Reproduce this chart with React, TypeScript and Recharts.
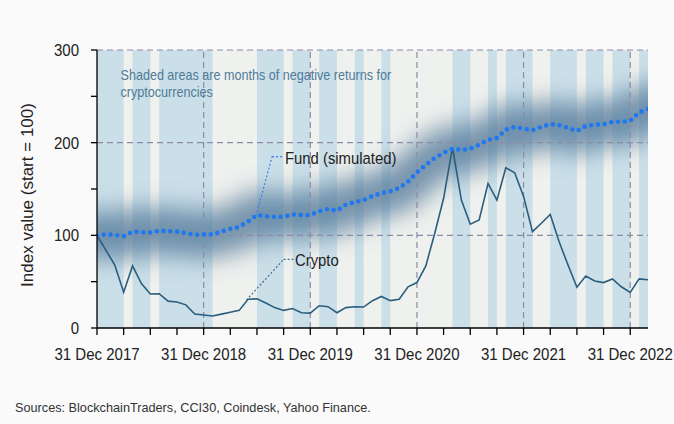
import React from 'react';
import { ComposedChart, Line, XAxis, YAxis, CartesianGrid, ReferenceArea, ReferenceLine } from 'recharts';

// Month-end observations, Dec 2017 .. Feb 2023
const monthLabels = [
  'Dec 2017',
  'Jan 2018', 'Feb 2018', 'Mar 2018', 'Apr 2018', 'May 2018', 'Jun 2018', 'Jul 2018', 'Aug 2018', 'Sep 2018', 'Oct 2018', 'Nov 2018', 'Dec 2018',
  'Jan 2019', 'Feb 2019', 'Mar 2019', 'Apr 2019', 'May 2019', 'Jun 2019', 'Jul 2019', 'Aug 2019', 'Sep 2019', 'Oct 2019', 'Nov 2019', 'Dec 2019',
  'Jan 2020', 'Feb 2020', 'Mar 2020', 'Apr 2020', 'May 2020', 'Jun 2020', 'Jul 2020', 'Aug 2020', 'Sep 2020', 'Oct 2020', 'Nov 2020', 'Dec 2020',
  'Jan 2021', 'Feb 2021', 'Mar 2021', 'Apr 2021', 'May 2021', 'Jun 2021', 'Jul 2021', 'Aug 2021', 'Sep 2021', 'Oct 2021', 'Nov 2021', 'Dec 2021',
  'Jan 2022', 'Feb 2022', 'Mar 2022', 'Apr 2022', 'May 2022', 'Jun 2022', 'Jul 2022', 'Aug 2022', 'Sep 2022', 'Oct 2022', 'Nov 2022', 'Dec 2022',
  'Jan 2023', 'Feb 2023',
];

const cryptoValues = [
  100,
  84, 68, 38.5, 67, 48, 36.7, 37, 29, 28, 25, 15, 14,
  13, 15, 17, 19, 31, 31.5, 27, 22, 19, 21, 16.5, 16,
  24, 23, 16.5, 22, 23, 22.6, 29.5, 34, 29.5, 31, 44.5, 49,
  67, 102, 140, 195, 138, 112, 116.5, 156, 138, 173, 167.5, 142,
  104, 113, 122.6, 93, 68, 44, 56, 50.7, 49, 53, 44.5, 38.5,
  53, 52,
];

const fundValues = [
  100,
  101, 100.5, 99, 104, 103.5, 103, 105, 104.5, 104, 102.5, 100.5, 101,
  101, 104, 107, 109, 115, 122, 120.5, 120, 120, 122.5, 122, 122,
  126, 128.5, 126.5, 133, 136, 138, 142.5, 145.5, 147.5, 151, 158, 168,
  176, 183.5, 189, 193.5, 192, 193.5, 198, 203, 205, 214, 217, 215,
  213.5, 217, 220, 219, 216, 212.5, 218, 219.3, 219.7, 222.5, 222.5, 223.5,
  232.5, 236.5,
];

// Months in which crypto returns were negative (shaded)
const negativeMonths = [
  'Jan 2018', 'Feb 2018', 'Mar 2018', 'May 2018', 'Jun 2018', 'Aug 2018', 'Sep 2018', 'Oct 2018', 'Nov 2018', 'Dec 2018',
  'Jan 2019', 'Jul 2019', 'Aug 2019', 'Sep 2019', 'Nov 2019', 'Dec 2019',
  'Feb 2020', 'Mar 2020', 'Jun 2020', 'Sep 2020',
  'May 2021', 'Jun 2021', 'Sep 2021', 'Nov 2021', 'Dec 2021',
  'Jan 2022', 'Apr 2022', 'May 2022', 'Jun 2022', 'Aug 2022', 'Sep 2022', 'Nov 2022', 'Dec 2022',
  'Feb 2023',
];

const yearTickLabels = ['31 Dec 2017', '31 Dec 2018', '31 Dec 2019', '31 Dec 2020', '31 Dec 2021', '31 Dec 2022'];
const yearTickMonths = ['Dec 2017', 'Dec 2018', 'Dec 2019', 'Dec 2020', 'Dec 2021', 'Dec 2022'];
const quarterTicks = [0, 3, 6, 9, 12, 15, 18, 21, 24, 27, 30, 33, 36, 39, 42, 45, 48, 51, 54, 57, 60];
const yTicks = [0, 50, 100, 150, 200, 250, 300];
const yLabelTicks = [0, 100, 200, 300];
const hGridValues = [100, 200, 300];

const data = monthLabels.map((m, i) => ({ i, month: m, crypto: cryptoValues[i], fund: fundValues[i] }));

// merge negative months into contiguous runs [start, end] on the index axis
const negIdx = negativeMonths.map((m) => monthLabels.indexOf(m));
const runs: [number, number][] = [];
negIdx.forEach((k) => {
  const last = runs[runs.length - 1];
  if (last && last[1] === k - 1) last[1] = k;
  else runs.push([k - 1, k]);
});
const yearIdx = yearTickMonths.map((m) => monthLabels.indexOf(m));

const FONT = '"Liberation Sans", Arial, sans-serif';
const GRID = '#8c8ba6';
const SX = 0.9; // horizontal condensing to mimic a narrow face

const XTick = (props: any) => {
  const { x, y, payload } = props;
  const k = yearIdx.indexOf(payload.value);
  if (k < 0) return null;
  return (
    <g transform={`translate(${x},${y}) scale(${SX},1)`}>
      <text x={0} y={0} dy="0.71em" textAnchor="middle" fontFamily={FONT} fontSize={16.7} fill="#222">
        {yearTickLabels[k]}
      </text>
    </g>
  );
};

const YTick = (props: any) => {
  const { x, y, payload } = props;
  if (!yLabelTicks.includes(payload.value)) return null;
  return (
    <g transform={`translate(${x},${y}) scale(${SX},1)`}>
      <text x={0} y={0} dy="0.355em" textAnchor="end" fontFamily={FONT} fontSize={16.7} fill="#222">
        {String(payload.value)}
      </text>
    </g>
  );
};

export default function App() {
  return (
    <div style={{ position: 'absolute', left: 0, top: 0, width: 674, height: 424, background: '#fafafa', fontFamily: FONT }}>
      <svg width={0} height={0} style={{ position: 'absolute' }}>
        <defs>
          <filter id="fundBlur" filterUnits="userSpaceOnUse" x={0} y={0} width={674} height={424}>
            <feGaussianBlur stdDeviation={12} />
          </filter>
        </defs>
      </svg>
      <ComposedChart width={674} height={424} data={data} margin={{ top: 50, right: 26, bottom: 66, left: 0 }}>
        <CartesianGrid fill="#eff1ee" horizontal={false} vertical={false} />
        <XAxis
          type="number"
          dataKey="i"
          domain={[0, 62]}
          ticks={quarterTicks}
          interval={0}
          allowDataOverflow
          height={30}
          tickSize={7}
          tickMargin={13}
          axisLine={{ stroke: '#000', strokeWidth: 1.3 }}
          tickLine={{ stroke: '#000', strokeWidth: 1.3 }}
          tick={<XTick />}
        />
        <YAxis
          type="number"
          domain={[0, 300]}
          ticks={yTicks}
          interval={0}
          allowDataOverflow
          width={97}
          tickSize={6}
          tickMargin={12}
          axisLine={{ stroke: '#000', strokeWidth: 1.3 }}
          tickLine={{ stroke: '#000', strokeWidth: 1.3 }}
          tick={<YTick />}
        />
        {runs.map(([a, b]) => (
          <ReferenceArea key={'r' + a} x1={a} x2={b} y1={0} y2={300} fill="#cbdfe8" fillOpacity={1} stroke="none" ifOverflow="hidden" />
        ))}
        <Line
          dataKey="fund"
          type="linear"
          stroke="#52799a"
          strokeOpacity={0.78}
          strokeWidth={46}
          strokeLinecap="square"
          filter="url(#fundBlur)"
          dot={false}
          activeDot={false}
          isAnimationActive={false}
        />
        {hGridValues.map((v) => (
          <ReferenceLine key={'h' + v} y={v} stroke={GRID} strokeDasharray="6 4" strokeWidth={1.2} />
        ))}
        {yearIdx.slice(1).map((v) => (
          <ReferenceLine key={'v' + v} x={v} stroke={GRID} strokeDasharray="6 4" strokeWidth={1.2} />
        ))}
        <Line
          dataKey="crypto"
          type="linear"
          stroke="#2a5e7e"
          strokeWidth={1.6}
          dot={false}
          activeDot={false}
          isAnimationActive={false}
        />
        <Line
          dataKey="fund"
          type="linear"
          stroke="#1f78f0"
          strokeWidth={4.6}
          strokeDasharray="0 6.8"
          strokeLinecap="round"
          dot={false}
          activeDot={false}
          isAnimationActive={false}
        />
        <ReferenceLine segment={[{ x: 17.9, y: 121 }, { x: 19.7, y: 185 }]} stroke="#3a7ee8" strokeDasharray="2 2" strokeWidth={1.2} />
        <ReferenceLine segment={[{ x: 19.7, y: 185 }, { x: 21.0, y: 185 }]} stroke="#3a7ee8" strokeDasharray="2 2" strokeWidth={1.2} />
        <ReferenceLine segment={[{ x: 16.8, y: 30 }, { x: 21.0, y: 74 }]} stroke="#3d6e8c" strokeDasharray="2 2" strokeWidth={1.2} />
        <ReferenceLine segment={[{ x: 21.0, y: 74 }, { x: 22.1, y: 74 }]} stroke="#3d6e8c" strokeDasharray="2 2" strokeWidth={1.2} />
      </ComposedChart>
      <svg width={674} height={424} style={{ position: 'absolute', left: 0, top: 0, pointerEvents: 'none' }}>
        <text x={27} y={195} transform="rotate(-90 27 195)" textAnchor="middle" dominantBaseline="central" fontFamily={FONT} fontSize={17} fill="#222">
          Index value (start = 100)
        </text>
        <g transform="translate(120.5 79.5) scale(0.9 1)">
          <text x={0} y={0} fontFamily={FONT} fontSize={14} fill="#4d7b99">
            Shaded areas are months of negative returns for
          </text>
          <text x={0} y={18} fontFamily={FONT} fontSize={14} fill="#4d7b99">
            cryptocurrencies
          </text>
        </g>
        <g transform="translate(285 163.5) scale(0.9 1)">
          <text x={0} y={0} fontFamily={FONT} fontSize={16.5} fill="#222">
            Fund (simulated)
          </text>
        </g>
        <g transform="translate(295 266) scale(0.9 1)">
          <text x={0} y={0} fontFamily={FONT} fontSize={16.5} fill="#222">
            Crypto
          </text>
        </g>
        <text x={15} y={412} fontFamily={FONT} fontSize={12.7} fill="#333">
          Sources: BlockchainTraders, CCI30, Coindesk, Yahoo Finance.
        </text>
      </svg>
    </div>
  );
}
